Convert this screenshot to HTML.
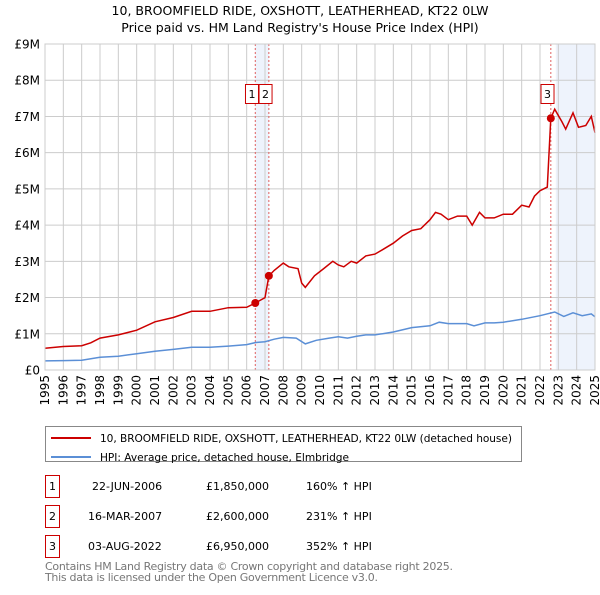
<!DOCTYPE html>
<html><head><meta charset="utf-8"><style>
body{margin:0;background:#fff;font-family:"Liberation Sans","DejaVu Sans",sans-serif;}
svg text{font-family:"DejaVu Sans","Liberation Sans",sans-serif;}
</style></head><body>
<svg id="c" width="600" height="590" xmlns="http://www.w3.org/2000/svg">
<text x="300" y="15" text-anchor="middle" font-size="12.5" fill="#000">10, BROOMFIELD RIDE, OXSHOTT, LEATHERHEAD, KT22 0LW</text>
<text x="300" y="32" text-anchor="middle" font-size="12.5" fill="#000">Price paid vs. HM Land Registry's House Price Index (HPI)</text>
<g id="plot"></g>
<g>
<rect x="45.5" y="426.5" width="476" height="35" fill="#fff" stroke="#888"/>
<line x1="51" y1="438" x2="91" y2="438" stroke="#cc0000" stroke-width="2"/>
<text x="100" y="442" font-size="10.6" textLength="412">10, BROOMFIELD RIDE, OXSHOTT, LEATHERHEAD, KT22 0LW (detached house)</text>
<line x1="51" y1="457" x2="91" y2="457" stroke="#5b8fd6" stroke-width="2"/>
<text x="100" y="461" font-size="10.6" textLength="249">HPI: Average price, detached house, Elmbridge</text>
</g>
<g font-size="11">
<rect x="45.5" y="475.5" width="14" height="22" fill="#fff" stroke="#cc0000"/><text x="52.5" y="490" text-anchor="middle">1</text>
<text x="92" y="490">22-JUN-2006</text><text x="206" y="490">£1,850,000</text><text x="306" y="490">160% ↑ HPI</text>
<rect x="45.5" y="505.5" width="14" height="22" fill="#fff" stroke="#cc0000"/><text x="52.5" y="520" text-anchor="middle">2</text>
<text x="88" y="520">16-MAR-2007</text><text x="206" y="520">£2,600,000</text><text x="306" y="520">231% ↑ HPI</text>
<rect x="45.5" y="535.5" width="14" height="22" fill="#fff" stroke="#cc0000"/><text x="52.5" y="550" text-anchor="middle">3</text>
<text x="88" y="550">03-AUG-2022</text><text x="206" y="550">£6,950,000</text><text x="306" y="550">352% ↑ HPI</text>
</g>
<text x="45" y="570" font-size="11" fill="#777" textLength="408">Contains HM Land Registry data © Crown copyright and database right 2025.</text>
<text x="45" y="581" font-size="11" fill="#777" textLength="333">This data is licensed under the Open Government Licence v3.0.</text>
</svg>
<script>
const yTicks=[0,1,2,3,4,5,6,7,8,9];
const yLabels=["£0","£1M","£2M","£3M","£4M","£5M","£6M","£7M","£8M","£9M"];
const xYears=[1995,1996,1997,1998,1999,2000,2001,2002,2003,2004,2005,2006,2007,2008,2009,2010,2011,2012,2013,2014,2015,2016,2017,2018,2019,2020,2021,2022,2023,2024,2025];
const redT=[1995,1996,1997,1997.5,1998,1999,2000,2001,2002,2003,2004,2005,2006,2006.47,2007,2007.21,2007.5,2008,2008.3,2008.8,2009,2009.2,2009.7,2010.2,2010.7,2011,2011.3,2011.7,2012,2012.5,2013,2013.5,2014,2014.5,2015,2015.5,2016,2016.3,2016.6,2017,2017.5,2018,2018.3,2018.7,2019,2019.5,2020,2020.5,2021,2021.4,2021.7,2022,2022.4,2022.59,2022.8,2023.2,2023.4,2023.8,2024.1,2024.5,2024.8,2025];
const redV=[0.6,0.65,0.67,0.75,0.88,0.97,1.1,1.33,1.45,1.62,1.62,1.72,1.73,1.85,2.0,2.6,2.75,2.95,2.85,2.8,2.4,2.28,2.6,2.8,3.0,2.9,2.85,3.0,2.95,3.15,3.2,3.35,3.5,3.7,3.85,3.9,4.15,4.35,4.3,4.15,4.25,4.25,4.0,4.35,4.2,4.2,4.3,4.3,4.55,4.5,4.8,4.95,5.05,6.95,7.2,6.85,6.65,7.1,6.7,6.75,7.0,6.55];
const hpiT=[1995,1996,1997,1998,1999,2000,2001,2002,2003,2004,2005,2006,2006.5,2007,2007.5,2008,2008.7,2009.2,2009.8,2010.5,2011,2011.5,2012,2012.5,2013,2014,2015,2016,2016.5,2017,2018,2018.4,2019,2019.5,2020,2021,2022,2022.8,2023.3,2023.8,2024.3,2024.8,2025];
const hpiV=[0.25,0.26,0.27,0.35,0.38,0.45,0.52,0.57,0.63,0.63,0.66,0.7,0.76,0.78,0.85,0.9,0.88,0.72,0.82,0.88,0.92,0.88,0.93,0.97,0.97,1.05,1.17,1.22,1.32,1.28,1.28,1.22,1.3,1.3,1.32,1.4,1.5,1.6,1.48,1.58,1.5,1.55,1.47];
const saleT=[2006.47,2007.21,2022.59];
const saleV=[1.85,2.6,6.95];
const saleLabels=["1","2","3"];
const X0=45,X1=595,Y0=370,Y1=44;
const xs=t=>X0+(t-1995)/30*(X1-X0);
const ys=v=>Y0-v/9*(Y0-Y1);
const NS="http://www.w3.org/2000/svg";
const g=document.getElementById('plot');
function mk(tag,at){const e=document.createElementNS(NS,tag);for(const k in at)e.setAttribute(k,at[k]);g.appendChild(e);return e;}
let b=mk('rect',{x:xs(saleT[0]),y:Y1,width:xs(saleT[1])-xs(saleT[0]),height:Y0-Y1,fill:'#eef3fc'});


b=mk('rect',{x:xs(saleT[2])+5,y:Y1,width:X1-xs(saleT[2])-5,height:Y0-Y1,fill:'#eef3fc'});


yTicks.forEach((v,i)=>{
 const l=mk('line',{x1:X0,x2:X1,y1:ys(v),y2:ys(v),stroke:'#cccccc'});
 
 
 const t=mk('text',{x:X0-5,y:ys(v)+4.5,'text-anchor':'end','font-size':'12'});t.textContent=yLabels[i];
 
 
});
xYears.forEach(yr=>{
 const l=mk('line',{x1:xs(yr),x2:xs(yr),y1:Y1,y2:Y0,stroke:'#cccccc'});
 
 
 const t=mk('text',{x:0,y:0,'text-anchor':'end','font-size':'12',transform:`translate(${xs(yr)+4},${Y0+5}) rotate(-90)`});t.textContent=yr;
 
 
});
saleT.forEach(t=>{
 const l=mk('line',{x1:xs(t),x2:xs(t),y1:Y1,y2:Y0,stroke:'#e06060','stroke-dasharray':'2,2'});
 
 
});
const pts=(T,V)=>T.map((t,i)=>xs(t).toFixed(1)+','+ys(V[i]).toFixed(1)).join(' ');
let p=mk('polyline',{points:pts(hpiT,hpiV),fill:'none',stroke:'#5b8fd6','stroke-width':1.5});


p=mk('polyline',{points:pts(redT,redV),fill:'none',stroke:'#cc0000','stroke-width':1.5});


saleT.forEach((t,i)=>{
 const c=mk('circle',{cx:xs(t),cy:ys(saleV[i]),r:4,fill:'#cc0000'});
 
 
});
saleLabels.forEach((s,i)=>{
 const bx=xs(saleT[i])-9.8;
 const r=mk('rect',{x:bx,y:84.5,width:13,height:19,fill:'#fff',stroke:'#cc0000'});
 
 
 const t=mk('text',{x:bx+6.5,y:98,'text-anchor':'middle','font-size':'11'});t.textContent=s;
 
 
});
const fr=mk('rect',{x:X0,y:Y1,width:X1-X0,height:Y0-Y1,fill:'none',stroke:'#cccccc'});


</script>
</body></html>
